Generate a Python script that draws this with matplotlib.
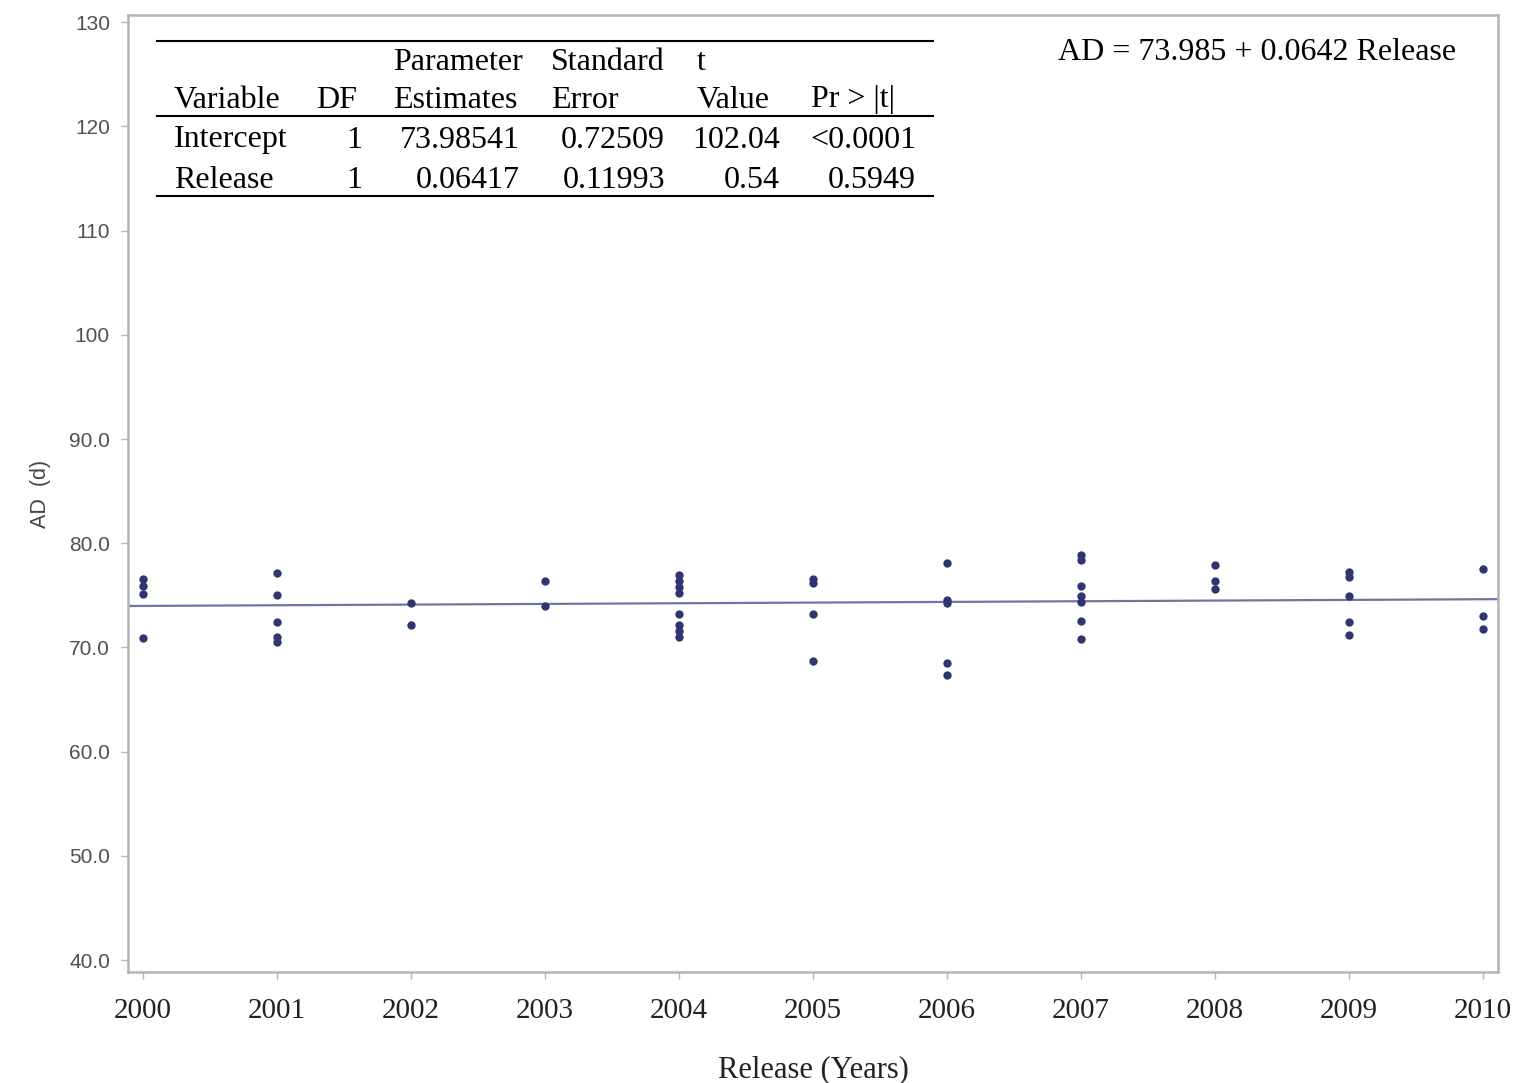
import matplotlib
matplotlib.use("Agg")
import matplotlib.pyplot as plt
from matplotlib.lines import Line2D
import numpy as np

# Observed AD (days) per release year
years = [2000, 2001, 2002, 2003, 2004, 2005, 2006, 2007, 2008, 2009, 2010]
ad_values = [
    [76.6, 75.9, 75.1, 70.9],
    [77.1, 75.0, 72.4, 71.0, 70.5],
    [74.3, 72.2],
    [76.4, 74.0],
    [77.0, 76.4, 75.8, 75.2, 73.2, 72.2, 71.6, 71.0],
    [76.6, 76.2, 73.2, 68.7],
    [78.1, 74.6, 74.3, 68.5, 67.4],
    [78.9, 78.4, 75.9, 74.9, 74.4, 72.5, 70.8],
    [77.9, 76.4, 75.6],
    [77.2, 76.8, 74.9, 72.4, 71.2],
    [77.5, 73.0, 71.8],
]

# Fitted regression: AD = intercept + slope * (year - 2000)
intercept = 73.985
slope = 0.0642

# Parameter estimates table
table_header1 = ["", "", "Parameter", "Standard", "t", ""]
table_header2 = ["Variable", "DF", "Estimates", "Error", "Value", "Pr > |t|"]
table_rows = [
    ["Intercept", "1", "73.98541", "0.72509", "102.04", "<0.0001"],
    ["Release", "1", "0.06417", "0.11993", "0.54", "0.5949"],
]

y_ticks = [40, 50, 60, 70, 80, 90, 100, 110, 120, 130]
y_tick_labels = ["40.0", "50.0", "60.0", "70.0", "80.0", "90.0", "100", "110", "120", "130"]

W, H = 1513, 1083
fig = plt.figure(figsize=(W / 100, H / 100), dpi=100)
ax = fig.add_axes([128 / W, 1 - 972 / H, (1498 - 128) / W, (972 - 15) / H])

point_color = "#2f3570"
line_color = "#6d74a6"
spine_color = "#b4b4b4"

xs = np.concatenate([[y] * len(v) for y, v in zip(years, ad_values)])
ys = np.concatenate([np.array(v, dtype=float) for v in ad_values])
ax.plot(xs, ys, "o", color=point_color, markersize=6, markeredgewidth=0, zorder=3)

fit_x = np.array([1999.89, 2010.11])
fit_y = intercept + slope * (fit_x - 2000)
ax.plot(fit_x, fit_y, color=line_color, lw=1.6, zorder=2)

ax.set_xlim(1999.89, 2010.11)
ax.set_ylim(38.85, 130.7)
ax.set_xticks(years)
ax.set_xticklabels([str(y) for y in years], family="Liberation Serif", fontsize=21, color="#222222")
ax.set_yticks(y_ticks)
ax.set_yticklabels(y_tick_labels, family="Liberation Sans", fontsize=15, color="#505050")
ax.tick_params(axis="both", direction="out", length=5, width=1, color=spine_color)
ax.tick_params(axis="x", pad=14)
ax.tick_params(axis="y", pad=8)
for s in ax.spines.values():
    s.set_color(spine_color)
    s.set_linewidth(1.8)

ax.set_xlabel("Release (Years)", family="Liberation Serif", fontsize=22, color="#222222", labelpad=22)
ax.set_ylabel("AD  (d)", family="Liberation Sans", fontsize=15.5, color="#444444", labelpad=13)


def fx(px):
    return px / W


def fy(py):
    return 1 - py / H


serif = dict(family="Liberation Serif", fontsize=23, color="black")

# Regression equation
fig.text(fx(1058), fy(53), f"AD = {intercept:.3f} + {slope:.4f} Release", va="center", ha="left", **serif)

# Table rules
for py in (41, 116, 196):
    fig.add_artist(Line2D([fx(157), fx(933)], [fy(py), fy(py)], transform=fig.transFigure,
                          color="black", lw=1.5))

left_cols = [174, 316, 393, 551, 697, 811]
right_cols = [174, 362, 520, 665, 780, 916]
for i, txt in enumerate(table_header1):
    if txt:
        fig.text(fx(left_cols[i]), fy(63), txt, va="center", ha="left", **serif)
for i, txt in enumerate(table_header2):
    fig.text(fx(left_cols[i]), fy(100), txt, va="center", ha="left", **serif)
for r, row in enumerate(table_rows):
    py = 140 + r * 41
    for i, txt in enumerate(row):
        if i == 0:
            fig.text(fx(right_cols[0]), fy(py), txt, va="center", ha="left", **serif)
        else:
            fig.text(fx(right_cols[i]), fy(py), txt, va="center", ha="right", **serif)

fig.savefig("out.png", dpi=100, facecolor="white")
